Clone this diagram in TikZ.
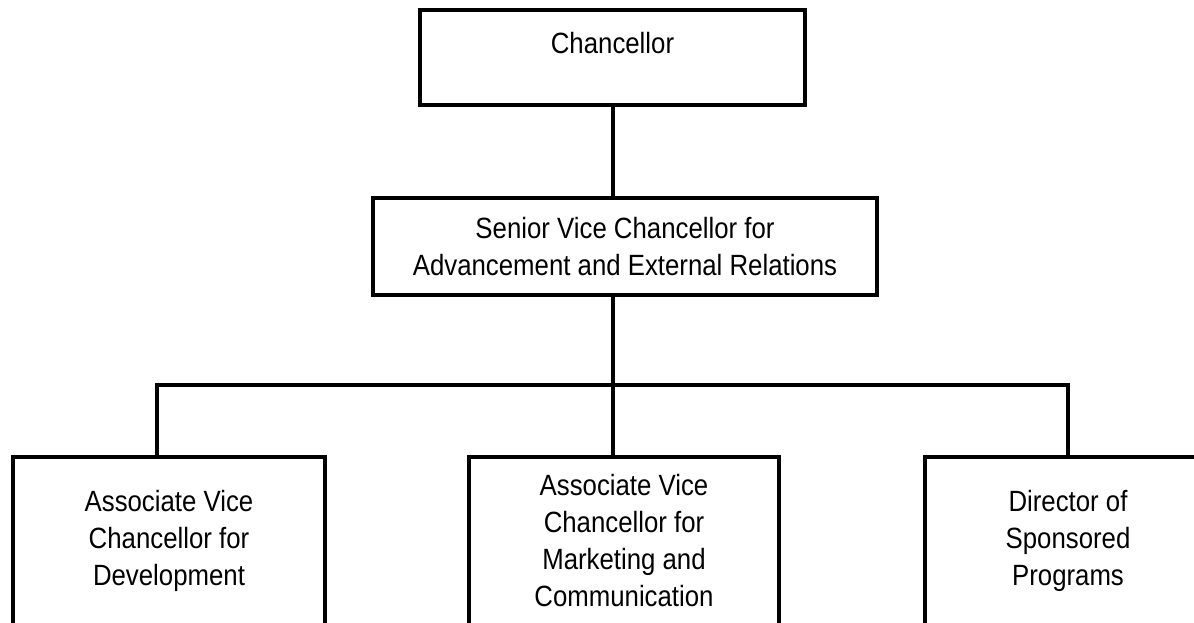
\documentclass[tikz,border=0pt]{standalone}
\usepackage{fontspec}
\setmainfont{Liberation Sans}[FakeStretch=0.88]
\begin{document}
\begin{tikzpicture}[x=1pt,y=-1pt,line width=3.5pt,
  box/.style={draw,align=center,inner sep=0pt,font=\fontsize{29.3}{37}\selectfont}]
\useasboundingbox (0,0) rectangle (1194,623);
\clip (0,0) rectangle (1194,623);
\node[box,minimum width=385pt,minimum height=95pt,text depth=30pt] (chan) at (612.5,57.5){Chancellor};
\node[box,minimum width=504pt,minimum height=97pt] (svc) at (625,246.5){Senior Vice Chancellor for\\Advancement and External Relations};
\node[box,minimum width=312pt,minimum height=168pt] (avcdev) at (169,541){Associate Vice\\Chancellor for\\Development};
\node[box,minimum width=310pt,minimum height=168pt] (avcmkt) at (624,541){Associate Vice\\Chancellor for\\Marketing and\\Communication};
\node[box,minimum width=286pt,minimum height=168pt] (dsp) at (1068,541){Director of\\Sponsored\\Programs};

\coordinate (busl) at (157,385);
\coordinate (busm) at (613,385);
\coordinate (busr) at (1068,385);
\draw (chan.south -| busm)--(svc.north -| busm);
\draw (svc.south -| busm)--(busm);
\draw[line cap=rect] (busl)--(busr);
\draw (busl)--(avcdev.north -| busl);
\draw (busm)--(avcmkt.north -| busm);
\draw (busr)--(dsp.north);
\end{tikzpicture}
\end{document}
